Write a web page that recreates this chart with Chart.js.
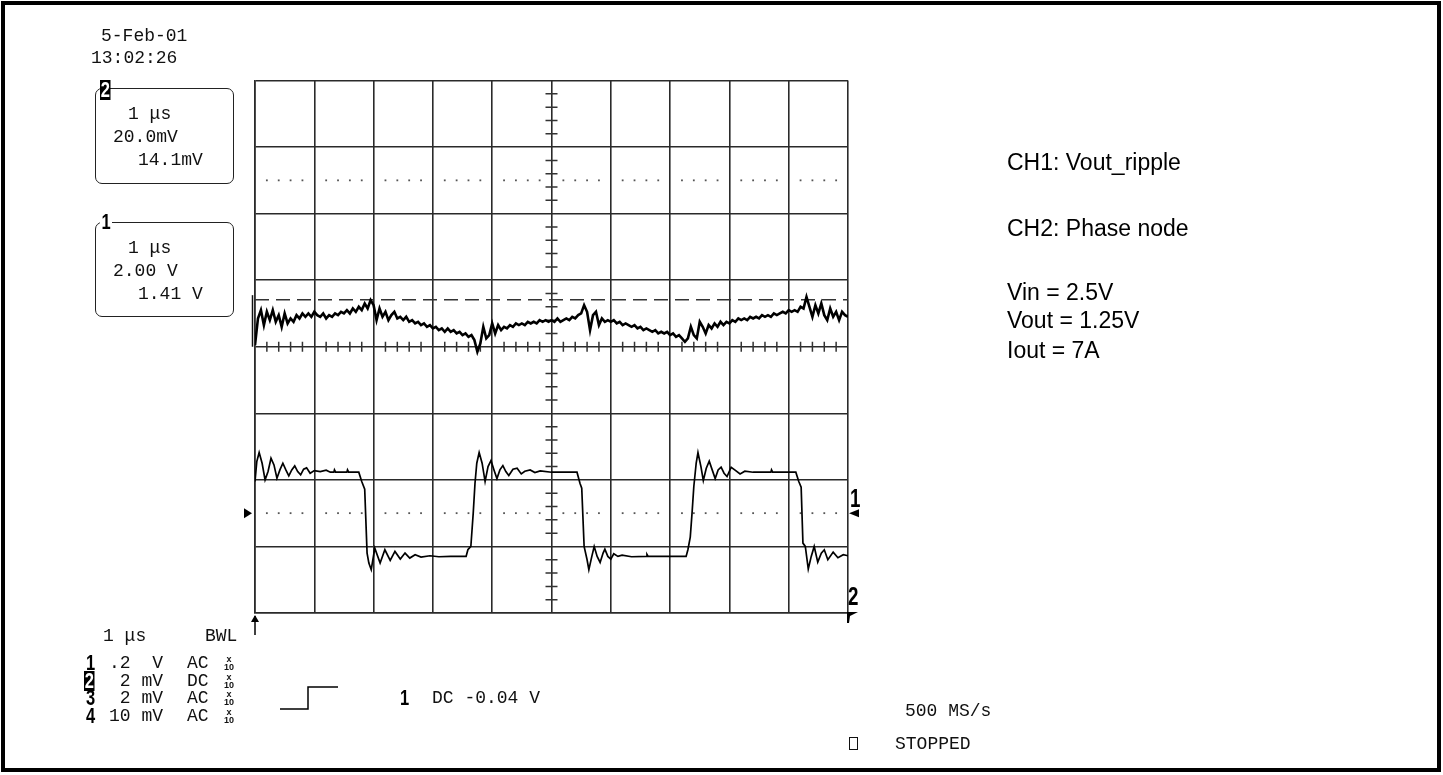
<!DOCTYPE html>
<html>
<head>
<meta charset="utf-8">
<title>Scope capture - Vout ripple / phase node</title>
<script src="https://cdn.jsdelivr.net/npm/chart.js@4.4.1/dist/chart.umd.min.js"></script>
<style>
  html, body { margin: 0; padding: 0; background: #fff; }
  #wrap { position: relative; width: 1443px; height: 775px; overflow: hidden; }
  #scope { position: absolute; left: 0; top: 0; }
  #frame { position: absolute; left: 1px; top: 1px; width: 1440px; height: 771px; border: 4px solid #000; box-sizing: border-box; pointer-events: none; }
  .t { position: absolute; font-family: "Liberation Mono", "DejaVu Sans Mono", monospace; font-size: 18px; line-height: 20px; color: #111; white-space: pre; }
  .b { position: absolute; font-family: "Liberation Sans", Arial, sans-serif; font-weight: bold; font-size: 22px; line-height: 20px; color: #000; transform: scaleX(0.75); transform-origin: left top; }
  .big { font-size: 25px; line-height: 22px; }
  .inv { background: #000; color: #fff; padding: 0 1px; }
  .x10 { position: absolute; font-family: "Liberation Sans", Arial, sans-serif; font-weight: bold; font-size: 9px; line-height: 8px; text-align: center; width: 14px; color: #111; }
  .note { position: absolute; font-family: "Liberation Sans", Arial, sans-serif; font-size: 23px; line-height: 24px; color: #000; white-space: pre; }
  .box { position: absolute; border: 1.5px solid #222; border-radius: 7px; }
</style>
</head>
<body>
<div id="wrap">
  <canvas id="scope" width="1443" height="775"></canvas>

  <!-- date / time -->
  <div class="t" style="left:101px; top:26px;">5-Feb-01</div>
  <div class="t" style="left:91px; top:48px;">13:02:26</div>

  <!-- trace 2 box -->
  <div class="box" style="left:95px; top:88px; width:137px; height:94px;"></div>
  <div class="b inv" style="left:100px; top:80px;">2</div>
  <div class="t" style="left:128px; top:104px;">1 μs</div>
  <div class="t" style="left:113px; top:127px;">20.0mV</div>
  <div class="t" style="left:138px; top:150px;">14.1mV</div>

  <!-- trace 1 box -->
  <div class="box" style="left:95px; top:222px; width:137px; height:93px;"></div>
  <div class="b" style="left:100px; top:212px; background:#fff; padding:0 2px;">1</div>
  <div class="t" style="left:128px; top:238px;">1 μs</div>
  <div class="t" style="left:113px; top:261px;">2.00 V</div>
  <div class="t" style="left:138px; top:284px;">1.41 V</div>

  <!-- right side markers -->
  <div class="b big" style="left:850px; top:487px;">1</div>
  <div class="b big" style="left:848px; top:585px;">2</div>

  <!-- bottom settings -->
  <div class="t" style="left:103px; top:626px;">1 μs</div>
  <div class="t" style="left:205px; top:626px;">BWL</div>

  <div class="b" style="left:86px; top:653px;">1</div>
  <div class="t" style="left:109px; top:653px;">.2  V</div>
  <div class="t" style="left:187px; top:653px;">AC</div>
  <div class="x10" style="left:222px; top:655px;">x<br>10</div>

  <div class="b inv" style="left:84px; top:671px;">2</div>
  <div class="t" style="left:109px; top:671px;"> 2 mV</div>
  <div class="t" style="left:187px; top:671px;">DC</div>
  <div class="x10" style="left:222px; top:673px;">x<br>10</div>

  <div class="b" style="left:86px; top:688px;">3</div>
  <div class="t" style="left:109px; top:688px;"> 2 mV</div>
  <div class="t" style="left:187px; top:688px;">AC</div>
  <div class="x10" style="left:222px; top:690px;">x<br>10</div>

  <div class="b" style="left:86px; top:706px;">4</div>
  <div class="t" style="left:109px; top:706px;">10 mV</div>
  <div class="t" style="left:187px; top:706px;">AC</div>
  <div class="x10" style="left:222px; top:708px;">x<br>10</div>

  <div class="b" style="left:400px; top:688px;">1</div>
  <div class="t" style="left:432px; top:688px;">DC -0.04 V</div>

  <div class="t" style="left:905px; top:701px;">500 MS/s</div>
  <div style="position:absolute; left:849px; top:737px; width:7px; height:11px; border:1.5px solid #111;"></div>
  <div class="t" style="left:895px; top:734px;">STOPPED</div>

  <!-- annotations -->
  <div class="note" style="left:1007px; top:150px;">CH1: Vout_ripple</div>
  <div class="note" style="left:1007px; top:216px;">CH2: Phase node</div>
  <div class="note" style="left:1007px; top:280px;">Vin = 2.5V</div>
  <div class="note" style="left:1007px; top:308px;">Vout = 1.25V</div>
  <div class="note" style="left:1007px; top:338px;">Iout = 7A</div>

  <div id="frame"></div>
</div>

<script>
// timebase: 1 us/div, 10 divisions
const timeMin = 0;
const timeMax = 10;

// ripple trace (20 mV/div), one sample every 0.05 us
const rippleSampleStep = 0.05;
const rippleMv = [
  0.5, 8.5, 11.0, 6.5, 10.5, 8.0, 11.0, 7.5, 9.5, 6.0,
  10.0, 7.0, 8.5, 7.5, 9.5, 8.5, 10.0, 9.0, 10.0, 9.0,
  10.5, 9.5, 9.0, 10.0, 8.5, 9.5, 9.0, 10.0, 9.5, 10.5,
  10.0, 11.0, 10.0, 11.5, 10.5, 12.0, 11.0, 13.0, 11.5, 14.0,
  12.5, 8.0, 11.5, 9.0, 10.5, 8.0, 9.5, 10.5, 8.5, 9.0,
  8.0, 9.0, 7.5, 8.0, 7.0, 7.5, 6.5, 7.0, 6.0, 6.5,
  5.5, 6.0, 5.0, 5.5, 4.5, 5.5, 4.5, 5.0, 4.0, 4.5,
  3.5, 4.0, 3.0, 3.5, 2.0, -1.5, 1.0, 6.0, 2.5, 3.5,
  7.0, 4.0, 6.5, 5.0, 6.0, 5.5, 6.5, 6.0, 7.0, 6.5,
  7.0, 6.5, 7.5, 7.0, 7.5, 7.0, 8.0, 7.5, 8.0, 7.5,
  8.0, 7.5, 8.5, 7.5, 8.0, 8.5, 8.0, 9.0, 8.5, 9.5,
  10.0, 12.5, 10.5, 5.0, 9.5, 10.5, 6.5, 8.5, 7.5, 8.0,
  7.5, 8.0, 7.0, 7.5, 6.5, 7.0, 6.5, 6.0, 6.5, 5.5,
  6.0, 5.0, 5.5, 5.0, 4.5, 5.0, 4.0, 4.5, 4.0, 4.5,
  3.5, 4.0, 3.0, 3.5, 2.5, 1.5, 2.5, 6.0, 3.5, 2.5,
  7.5, 6.0, 4.0, 6.5, 5.5, 7.0, 6.0, 7.5, 6.5, 7.5,
  7.0, 8.0, 7.5, 8.5, 8.0, 8.5, 8.0, 9.0, 8.5, 9.0,
  8.5, 9.5, 9.0, 9.5, 9.0, 10.0, 9.5, 10.0, 10.5, 10.0,
  11.0, 10.5, 11.0, 10.5, 12.0, 11.5, 15.0, 12.0, 9.0, 12.5,
  10.0, 13.0, 9.5, 8.0, 11.5, 9.0, 10.5, 8.0, 10.5, 9.5,
  9.0
];

// phase node (2 V/div, relative to the marker level)
const phaseTime = [
  0.00, 0.03, 0.07, 0.12, 0.17, 0.22, 0.27, 0.32, 0.37, 0.42,
  0.47, 0.52, 0.57, 0.62, 0.67, 0.72, 0.77, 0.82, 0.87, 0.93,
  1.00, 1.10, 1.20, 1.27, 1.33, 1.34, 1.36, 1.55, 1.56, 1.58, 1.75,
  1.80, 1.85, 1.89, 1.92, 1.96, 2.02, 2.11, 2.19, 2.28, 2.36,
  2.45, 2.53, 2.61, 2.70, 2.80, 2.95, 3.10, 3.30, 3.56,
  3.59, 3.64, 3.68, 3.71, 3.74, 3.78, 3.83, 3.88, 3.93, 3.98,
  4.03, 4.08, 4.13, 4.18, 4.23, 4.28, 4.35, 4.42, 4.49, 4.55,
  4.64, 4.72, 4.81, 5.00, 5.43,
  5.48, 5.51, 5.55, 5.60, 5.63, 5.68, 5.72, 5.77, 5.82, 5.87,
  5.90, 5.95, 6.00, 6.05, 6.12, 6.19, 6.35, 6.60, 6.61, 6.63, 7.27,
  7.30, 7.34, 7.37, 7.40, 7.44, 7.47, 7.52, 7.56, 7.61, 7.66,
  7.71, 7.76, 7.81, 7.86, 7.91, 7.96, 8.03, 8.09, 8.18, 8.26,
  8.40, 8.70, 8.71, 8.73, 9.12,
  9.17, 9.21, 9.24, 9.28, 9.33, 9.38, 9.43, 9.49, 9.55, 9.60,
  9.66, 9.75, 9.83, 9.92, 10.00
];
const phaseVolt = [
  0.95, 1.55, 1.82, 1.50, 1.00, 1.25, 1.65, 1.45, 1.05, 1.30,
  1.50, 1.30, 1.12, 1.30, 1.42, 1.25, 1.15, 1.32, 1.36, 1.20,
  1.28, 1.25, 1.29, 1.23, 1.23, 1.30, 1.23, 1.23, 1.30, 1.23, 1.23,
  0.95, 0.72, -1.20, -1.50, -1.70, -1.05, -1.50, -1.10, -1.42, -1.15,
  -1.38, -1.20, -1.35, -1.25, -1.32, -1.28, -1.31, -1.30, -1.30,
  -1.10, -1.00, 0.00, 0.90, 1.50, 1.82, 1.50, 0.95, 1.40, 1.58,
  1.30, 1.04, 1.30, 1.43, 1.25, 1.13, 1.32, 1.35, 1.18, 1.26,
  1.30, 1.22, 1.27, 1.23, 1.23,
  0.90, 0.75, -1.00, -1.40, -1.70, -1.30, -1.00, -1.30, -1.48, -1.20,
  -1.08, -1.30, -1.38, -1.22, -1.30, -1.26, -1.31, -1.30, -1.24, -1.30, -1.30,
  -1.10, -0.72, 0.00, 0.80, 1.50, 1.82, 1.40, 0.98, 1.35, 1.56,
  1.30, 1.04, 1.30, 1.38, 1.20, 1.10, 1.38, 1.30, 1.18, 1.26,
  1.23, 1.23, 1.30, 1.23, 1.23,
  0.95, 0.78, -0.90, -1.00, -1.68, -1.30, -1.00, -1.47, -1.20, -1.10,
  -1.40, -1.17, -1.34, -1.25, -1.28
];

// cursor and reference levels
const rippleCursorMv = 14.1;
const referenceMv = [50, -50];   // dotted reference rows (+/- 2.5 div)
const phaseMarkerV = 0;

const ripplePoints = rippleMv.map((v, i) => ({ x: i * rippleSampleStep, y: v }));
const phasePoints = phaseTime.map((t, i) => ({ x: t, y: phaseVolt[i] }));

// grid extras: centre graticule ticks, dotted reference rows, cursor, markers
const scopeOverlay = {
  id: 'scopeOverlay',
  beforeDatasetsDraw(chart) {
    const { ctx, chartArea: a, scales } = chart;
    const x = scales.x, y = scales.y, yp = scales.yPhase;
    const xc = x.getPixelForValue(5);
    const yc = y.getPixelForValue(0);
    const minorX = (x.getPixelForValue(1) - x.getPixelForValue(0)) / 5;
    const minorY = (y.getPixelForValue(0) - y.getPixelForValue(20)) / 5;

    ctx.save();
    ctx.strokeStyle = '#333';
    ctx.lineWidth = 1.5;
    ctx.beginPath();
    for (let i = 1; i < 50; i++) {
      if (i % 5 === 0) continue;
      const px = a.left + i * minorX;
      ctx.moveTo(px, yc - 5);
      ctx.lineTo(px, yc + 5);
    }
    for (let j = 1; j < 40; j++) {
      if (j % 5 === 0) continue;
      const py = a.top + j * minorY;
      ctx.moveTo(xc - 6, py);
      ctx.lineTo(xc + 6, py);
    }
    ctx.stroke();

    // dotted reference rows
    ctx.fillStyle = '#555';
    referenceMv.forEach(mv => {
      const py = y.getPixelForValue(mv);
      for (let i = 1; i < 50; i++) {
        if (i % 5 === 0) continue;
        ctx.fillRect(a.left + i * minorX - 0.9, py - 0.9, 1.8, 1.8);
      }
    });

    // cursor line
    ctx.setLineDash([14, 7]);
    ctx.beginPath();
    const cy = y.getPixelForValue(rippleCursorMv);
    ctx.moveTo(a.left, cy);
    ctx.lineTo(a.right, cy);
    ctx.stroke();
    ctx.setLineDash([]);

    // left edge bar of ripple trace
    ctx.strokeStyle = '#111';
    ctx.beginPath();
    ctx.moveTo(a.left - 2.5, y.getPixelForValue(15.5));
    ctx.lineTo(a.left - 2.5, y.getPixelForValue(0));
    ctx.stroke();

    // channel 1 level markers
    const my = yp.getPixelForValue(phaseMarkerV);
    ctx.fillStyle = '#000';
    ctx.beginPath();
    ctx.moveTo(a.left - 11, my - 5);
    ctx.lineTo(a.left - 3, my);
    ctx.lineTo(a.left - 11, my + 5);
    ctx.closePath();
    ctx.fill();
    ctx.beginPath();
    ctx.moveTo(a.right + 11, my - 4);
    ctx.lineTo(a.right + 1, my);
    ctx.lineTo(a.right + 11, my + 4);
    ctx.closePath();
    ctx.fill();

    // channel 2 marker at bottom right
    ctx.beginPath();
    ctx.moveTo(a.right - 1, a.bottom - 1);
    ctx.lineTo(a.right + 10, a.bottom - 1);
    ctx.lineTo(a.right + 2, a.bottom + 3);
    ctx.lineTo(a.right + 1, a.bottom + 10);
    ctx.lineTo(a.right - 1, a.bottom + 10);
    ctx.closePath();
    ctx.fill();

    // trigger position arrow
    ctx.strokeStyle = '#000';
    ctx.lineWidth = 1.5;
    ctx.beginPath();
    ctx.moveTo(a.left, a.bottom + 3);
    ctx.lineTo(a.left, a.bottom + 22);
    ctx.stroke();
    ctx.beginPath();
    ctx.moveTo(a.left, a.bottom + 2);
    ctx.lineTo(a.left - 4, a.bottom + 9);
    ctx.lineTo(a.left + 4, a.bottom + 9);
    ctx.closePath();
    ctx.fill();

    // trigger slope symbol
    ctx.beginPath();
    ctx.moveTo(280, 709);
    ctx.lineTo(308, 709);
    ctx.lineTo(308, 687);
    ctx.lineTo(338, 687);
    ctx.stroke();
    ctx.restore();
  }
};

new Chart(document.getElementById('scope'), {
  type: 'line',
  data: {
    datasets: [
      {
        label: 'Ripple',
        data: ripplePoints,
        yAxisID: 'y',
        borderColor: '#000',
        borderWidth: 2.6,
        pointRadius: 0,
        tension: 0
      },
      {
        label: 'Phase node',
        data: phasePoints,
        yAxisID: 'yPhase',
        borderColor: '#000',
        borderWidth: 1.7,
        pointRadius: 0,
        tension: 0
      }
    ]
  },
  options: {
    responsive: false,
    devicePixelRatio: 1,
    animation: false,
    layout: { padding: { left: 255, top: 80.5, right: 595, bottom: 162 } },
    plugins: {
      legend: { display: false },
      tooltip: { enabled: false }
    },
    scales: {
      x: {
        type: 'linear',
        min: timeMin,
        max: timeMax,
        ticks: { stepSize: 1, display: false },
        grid: { color: '#2a2a2a', lineWidth: 1.6, drawTicks: false },
        border: { display: true, color: '#2a2a2a', width: 1.6 }
      },
      y: {
        type: 'linear',
        min: -80,
        max: 80,
        ticks: { stepSize: 20, display: false },
        grid: { color: '#2a2a2a', lineWidth: 1.6, drawTicks: false },
        border: { display: true, color: '#2a2a2a', width: 1.6 }
      },
      yPhase: {
        type: 'linear',
        display: false,
        min: -3,
        max: 13
      }
    }
  },
  plugins: [scopeOverlay]
});
</script>
</body>
</html>
